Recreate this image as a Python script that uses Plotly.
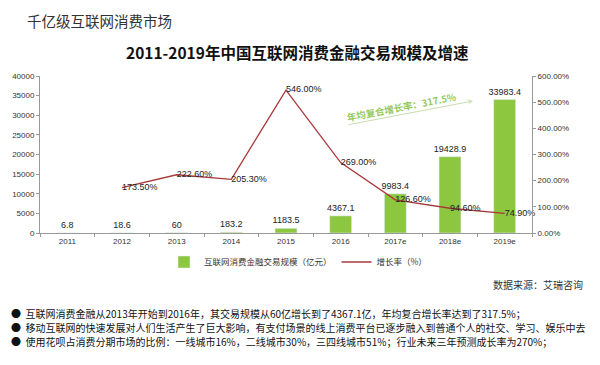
import plotly.graph_objects as go

years = ["2011", "2012", "2013", "2014", "2015", "2016", "2017e", "2018e", "2019e"]
scale = [6.8, 18.6, 60, 183.2, 1183.5, 4367.1, 9983.4, 19428.9, 33983.4]
scale_labels = ["6.8", "18.6", "60", "183.2", "1183.5", "4367.1", "9983.4", "19428.9", "33983.4"]
growth = [None, 173.5, 222.6, 205.3, 546.0, 269.0, 126.6, 94.6, 74.9]
growth_labels = ["" if g is None else f"{g:.2f}%" for g in growth]
y_ticks = [0, 5000, 10000, 15000, 20000, 25000, 30000, 35000, 40000]
y2_ticks = [0, 100, 200, 300, 400, 500, 600]

FONT = "Noto Sans CJK SC"
GREEN = "#8DC63F"
RED = "#A8383B"

# page offset (body margin) and figure size
OFF = 8
W, H = 600 - OFF, 365 - OFF
# plot area in page pixels
pl, pr, pt, pb = 40, 532, 76, 233

fig = go.Figure()
fig.add_trace(go.Bar(
    x=years, y=scale, name="互联网消费金融交易规模（亿元）",
    marker_color=GREEN, width=0.4,
    text=scale_labels, textposition="outside", cliponaxis=False, constraintext="none",
    textfont=dict(size=9, color="#222", family="Arial"),
))
fig.add_trace(go.Scatter(
    x=years, y=growth, name="增长率（%）", yaxis="y2",
    mode="lines+text", line=dict(color=RED, width=1.3),
    text=growth_labels, textposition="middle right",
    textfont=dict(size=9, color="#222", family="Arial"),
    cliponaxis=False,
))

axis_font = dict(size=8, family="Arial", color="#333")
fig.update_layout(
    width=W, height=H,
    margin=dict(l=pl - OFF, r=W - (pr - OFF), t=pt - OFF, b=H - (pb - OFF), autoexpand=False),
    paper_bgcolor="white", plot_bgcolor="white",
    font=dict(family=FONT, size=9, color="#333"),
    xaxis=dict(showline=True, linecolor="#999", ticks="outside", tickcolor="#999",
               ticklen=3, tickson="boundaries", tickfont=axis_font),
    yaxis=dict(range=[0, 40000], tickvals=y_ticks, ticktext=[str(v) for v in y_ticks],
               showgrid=False, showline=True,
               linecolor="#999", ticks="outside", tickcolor="#999", ticklen=3,
               tickfont=axis_font, zeroline=False),
    yaxis2=dict(range=[0, 600], tickvals=y2_ticks, overlaying="y", side="right",
                ticktext=[f"{v:.2f}%" for v in y2_ticks], showgrid=False, showline=True,
                linecolor="#999", ticks="outside", tickcolor="#999", ticklen=3,
                tickfont=axis_font, zeroline=False),
    showlegend=True,
    legend=dict(orientation="h", x=(164 - pl) / (pr - pl), xanchor="left",
                y=(pb - 262) / (pb - pt), yanchor="middle",
                font=dict(size=8.5, family=FONT, color="#333"),
                itemwidth=30, tracegroupgap=0, bgcolor="rgba(0,0,0,0)"),
)


def px2paper(px, py):
    return (px - pl) / (pr - pl), (pb - py) / (pb - pt)


annos = [
    dict(text="千亿级互联网消费市场", x=25, y=8, yanchor="top", font=dict(size=14.5, color="#333")),
    dict(text="<b>2011-2019年中国互联网消费金融交易规模及增速</b>", x=297, y=52, xanchor="center",
         font=dict(size=15.5, color="#111")),
    dict(text="数据来源：艾瑞咨询", x=585, y=284, xanchor="right", font=dict(size=10, color="#333")),
    dict(text="●  互联网消费金融从2013年开始到2016年，其交易规模从60亿增长到了4367.1亿，年均复合增长率达到了317.5%；",
         x=9, y=313, font=dict(size=10, color="#111")),
    dict(text="●  移动互联网的快速发展对人们生活产生了巨大影响，有支付场景的线上消费平台已逐步融入到普通个人的社交、学习、娱乐中去",
         x=9, y=327, font=dict(size=10, color="#111")),
    dict(text="●  使用花呗占消费分期市场的比例：一线城市16%，二线城市30%，三四线城市51%；行业未来三年预测成长率为270%；",
         x=9, y=341, font=dict(size=10, color="#111")),
]
for a in annos:
    x, y = px2paper(a["x"], a["y"])
    fig.add_annotation(xref="paper", yref="paper", showarrow=False, x=x, y=y,
                       xanchor=a.get("xanchor", "left"), yanchor=a.get("yanchor", "middle"),
                       text=a["text"], font=dict(family=FONT, **a["font"]))

# CAGR annotation with arrow
hx, hy = px2paper(473, 101)
fig.add_annotation(xref="paper", yref="paper", showarrow=True, x=hx, y=hy,
                   ax=347 - 473, ay=125 - 101,
                   arrowhead=3, arrowsize=1, arrowwidth=1, arrowcolor="#C9DDB0", text="")
tx, ty = px2paper(401, 107)
fig.add_annotation(xref="paper", yref="paper", showarrow=False, x=tx, y=ty,
                   xanchor="center", yanchor="middle",
                   text="<b>年均复合增长率：317.5%</b>", textangle=-11,
                   font=dict(family=FONT, size=9.5, color="#95C95A"))

fig.write_html("out.html")
